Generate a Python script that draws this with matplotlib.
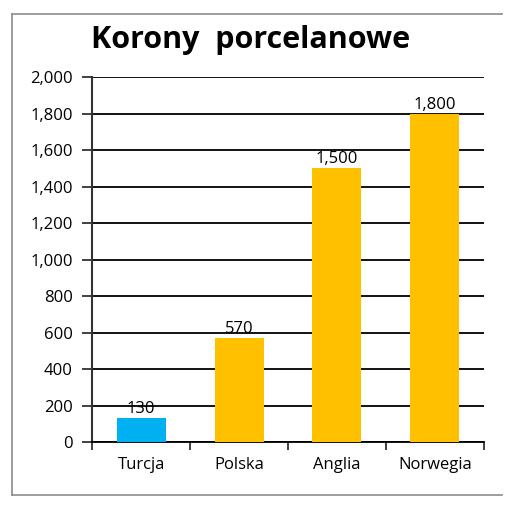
import matplotlib.pyplot as plt
from matplotlib.ticker import FuncFormatter, FixedLocator
from matplotlib.lines import Line2D

countries = ["Turcja", "Polska", "Anglia", "Norwegia"]
values = [130, 570, 1500, 1800]
colors = ["#00B0F0", "#FFC000", "#FFC000", "#FFC000"]

plt.rcParams['font.family'] = ['Open Sans', 'DejaVu Sans']

fig = plt.figure(figsize=(5.12, 5.11), dpi=100)
ax = fig.add_axes([0.18, 0.135, 0.765, 0.714])

x = list(range(len(countries)))
bars = ax.bar(x, values, width=0.5, color=colors, zorder=3)
for xi, v in zip(x, values):
    ax.text(xi, v + 5, f"{v:,}", ha="center", va="bottom", fontsize=12, zorder=4)

ax.set_xlim(-0.5, 3.5)
ax.set_ylim(0, 2000)
ax.set_yticks(range(0, 2001, 200))
ax.yaxis.set_major_formatter(FuncFormatter(lambda v, p: f"{int(v):,}"))
ax.grid(axis="y", color="black", linewidth=1.3, zorder=1)

ax.set_xticks(x)
ax.set_xticklabels(countries, fontsize=12)
ax.xaxis.set_minor_locator(FixedLocator([-0.5, 0.5, 1.5, 2.5, 3.5]))
ax.tick_params(axis="x", which="major", length=0, pad=11)
ax.tick_params(axis="x", which="minor", length=6, width=1.3, color="#333333")
ax.tick_params(axis="y", length=7, width=1.3, color="#333333", labelsize=12, pad=7)

for s in ["top", "right"]:
    ax.spines[s].set_visible(False)
ax.spines["left"].set_color("#333333")
ax.spines["left"].set_linewidth(1.5)
ax.spines["bottom"].set_color("black")
ax.spines["bottom"].set_linewidth(1.3)

fig.text(0.489, 0.922, "Korony  porcelanowe", ha="center", va="center",
         fontsize=22, fontweight="bold")

# chart frame (left, top, bottom edges)
fc = "#8c8c8c"
fig.add_artist(Line2D([0.024, 0.024], [0.031, 0.972], color=fc, lw=1.2, transform=fig.transFigure))
fig.add_artist(Line2D([0.024, 0.98], [0.972, 0.972], color=fc, lw=1.2, transform=fig.transFigure))
fig.add_artist(Line2D([0.024, 0.98], [0.031, 0.031], color=fc, lw=1.2, transform=fig.transFigure))

fig.savefig("out.png", dpi=100)
